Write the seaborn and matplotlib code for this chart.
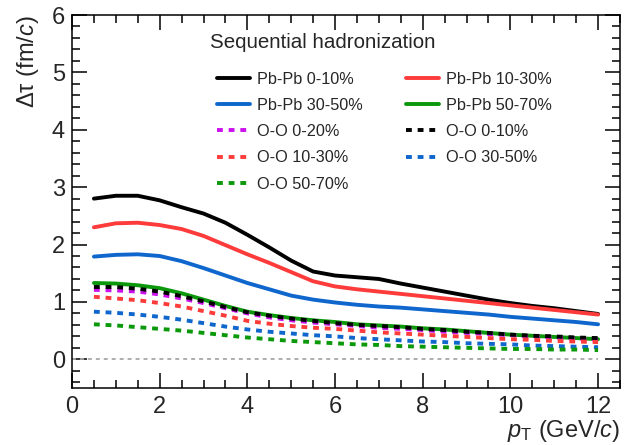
import matplotlib
matplotlib.use("Agg")
import matplotlib.pyplot as plt
from matplotlib.ticker import MultipleLocator
import numpy as np
import pandas as pd
import seaborn as sns

# pT grid (GeV/c)
pt = [0.5, 1.0, 1.5, 2.0, 2.5, 3.0, 3.5, 4.0, 4.5, 5.0, 5.5, 6.0,
      6.5, 7.0, 7.5, 8.0, 8.5, 9.0, 9.5, 10.0, 10.5, 11.0, 11.5, 12.0]

# Formation-time difference Delta tau (fm/c) per centrality class
pbpb_0_10 = [2.80, 2.85, 2.85, 2.77, 2.65, 2.54, 2.38, 2.17, 1.95, 1.72, 1.53, 1.46,
             1.43, 1.40, 1.32, 1.25, 1.18, 1.11, 1.04, 0.98, 0.93, 0.89, 0.84, 0.79]
pbpb_10_30 = [2.30, 2.37, 2.38, 2.34, 2.27, 2.15, 1.99, 1.83, 1.68, 1.52, 1.36, 1.27,
              1.22, 1.18, 1.14, 1.10, 1.06, 1.02, 0.98, 0.94, 0.90, 0.86, 0.82, 0.78]
pbpb_30_50 = [1.79, 1.82, 1.83, 1.80, 1.71, 1.59, 1.46, 1.33, 1.22, 1.11, 1.04, 0.99,
              0.95, 0.92, 0.90, 0.87, 0.84, 0.81, 0.78, 0.74, 0.71, 0.68, 0.65, 0.61]
pbpb_50_70 = [1.33, 1.32, 1.29, 1.24, 1.15, 1.04, 0.93, 0.83, 0.77, 0.72, 0.68, 0.65,
              0.61, 0.59, 0.57, 0.54, 0.52, 0.49, 0.46, 0.43, 0.41, 0.39, 0.37, 0.35]
oo_0_20 = [1.21, 1.20, 1.18, 1.13, 1.06, 0.98, 0.89, 0.80, 0.73, 0.68, 0.64, 0.61,
           0.58, 0.55, 0.53, 0.51, 0.48, 0.46, 0.44, 0.42, 0.40, 0.38, 0.36, 0.34]
oo_0_10 = [1.26, 1.26, 1.23, 1.18, 1.10, 1.01, 0.91, 0.82, 0.76, 0.71, 0.67, 0.63,
           0.60, 0.58, 0.56, 0.53, 0.51, 0.48, 0.46, 0.43, 0.41, 0.40, 0.38, 0.37]
oo_10_30 = [1.09, 1.06, 1.03, 0.98, 0.92, 0.84, 0.76, 0.67, 0.62, 0.58, 0.55, 0.53,
            0.50, 0.47, 0.45, 0.43, 0.41, 0.39, 0.37, 0.35, 0.34, 0.32, 0.31, 0.30]
oo_30_50 = [0.83, 0.81, 0.78, 0.74, 0.69, 0.63, 0.57, 0.52, 0.48, 0.45, 0.42, 0.40,
            0.37, 0.35, 0.33, 0.31, 0.30, 0.28, 0.27, 0.26, 0.24, 0.23, 0.22, 0.21]
oo_50_70 = [0.61, 0.59, 0.56, 0.53, 0.50, 0.46, 0.42, 0.38, 0.35, 0.32, 0.30, 0.28,
            0.26, 0.25, 0.23, 0.22, 0.21, 0.20, 0.19, 0.18, 0.18, 0.17, 0.17, 0.16]

labels = ["Pb-Pb 0-10%", "Pb-Pb 10-30%", "Pb-Pb 30-50%", "Pb-Pb 50-70%",
          "O-O 0-20%", "O-O 0-10%", "O-O 10-30%", "O-O 30-50%", "O-O 50-70%"]
series = [pbpb_0_10, pbpb_10_30, pbpb_30_50, pbpb_50_70,
          oo_0_20, oo_0_10, oo_10_30, oo_30_50, oo_50_70]

BLACK, RED, BLUE, GREEN, VIOLET = "#000000", "#fe3b3b", "#0f66cc", "#0b990b", "#cc11ee"
colors = [BLACK, RED, BLUE, GREEN, VIOLET, BLACK, RED, BLUE, GREEN]
dashed = [False] * 4 + [True] * 5

sns.set_theme(style="ticks")
plt.rcParams["font.family"] = ["Liberation Sans", "DejaVu Sans"]
plt.rcParams["mathtext.fontset"] = "custom"
plt.rcParams["mathtext.rm"] = "Liberation Sans"
plt.rcParams["mathtext.it"] = "Liberation Sans:italic"

df = pd.DataFrame({
    "pt": np.tile(pt, len(labels)),
    "dtau": np.concatenate(series),
    "label": np.repeat(labels, len(pt)),
})

fig = plt.figure(figsize=(6.35, 4.45), dpi=100)
ax = fig.add_axes([72 / 635, 57 / 445, 548 / 635, 373 / 445])

# zero reference line
ax.hlines(0, 0, 12, colors="#a8a8a8", linestyles=(0, (2.2, 2.2)), linewidth=1.3, zorder=1)

handles = {}
for lab, col, dsh in zip(labels, colors, dashed):
    sub = df[df["label"] == lab]
    sns.lineplot(data=sub, x="pt", y="dtau", ax=ax, color=col, linewidth=2.8,
                 estimator=None, sort=True, legend=False)
    line = ax.lines[-1]
    if dsh:
        line.set_linestyle((0, (1.5, 1.5)))
    line.set_label(lab)
    handles[lab] = line

ax.set_xlim(0, 12.5)
ax.set_ylim(-0.5, 6)
ax.xaxis.set_major_locator(MultipleLocator(2))
ax.xaxis.set_minor_locator(MultipleLocator(0.5))
ax.yaxis.set_major_locator(MultipleLocator(1))
ax.yaxis.set_minor_locator(MultipleLocator(0.2))
ax.tick_params(which="both", direction="in", top=True, right=True,
               width=1.1, color="black")
ax.tick_params(which="major", length=11, labelsize=17)
ax.tick_params(which="minor", length=6)
ax.tick_params(axis="x", which="major", pad=6)
ax.tick_params(axis="y", which="major", pad=5)
for sp in ax.spines.values():
    sp.set_visible(True)
    sp.set_linewidth(1.1)
    sp.set_color("black")

ax.set_xlabel(r"$p_{\mathrm{T}}$ (GeV/$c$)", fontsize=17, loc="right", labelpad=0)
ax.set_ylabel("\u0394\u03c4 (fm/$c$)", fontsize=17, loc="top", labelpad=8)

ax.text(0.252, 0.9276, "Sequential hadronization", transform=ax.transAxes,
        fontsize=14.8, ha="left", va="center")

# two-column legend filled row by row
order = ["Pb-Pb 0-10%", "Pb-Pb 30-50%", "O-O 0-20%", "O-O 10-30%", "O-O 50-70%",
         "Pb-Pb 10-30%", "Pb-Pb 50-70%", "O-O 0-10%", "O-O 30-50%"]
ax.legend([handles[k] for k in order], order, ncol=2, frameon=False,
          loc="upper left", bbox_to_anchor=(0.2646, 0.848), borderaxespad=0,
          borderpad=0, fontsize=11.7, handlelength=2.0, handletextpad=0.45,
          columnspacing=2.7, labelspacing=0.69)

fig.savefig("out.png", dpi=100)
